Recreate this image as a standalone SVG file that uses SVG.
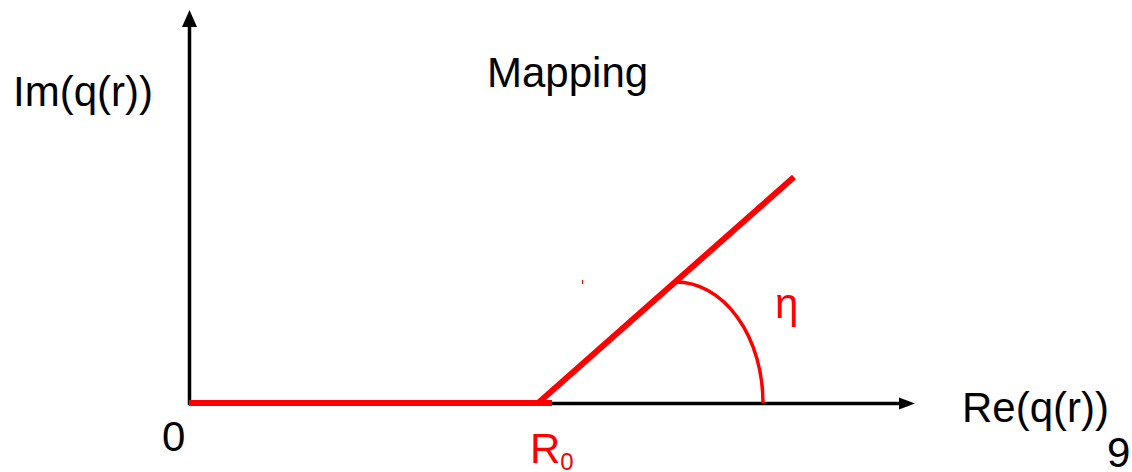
<svg xmlns="http://www.w3.org/2000/svg" width="1132" height="472" viewBox="0 0 1132 472">
<style>
.t{font-family:"Liberation Sans",Arial,sans-serif;font-size:42px;fill:#000}
.r{fill:#ff0000}
.ax{stroke:#000;stroke-width:3.5;fill:none}
.red{stroke:#ff0000;fill:none}
</style>
<rect width="1132" height="472" fill="#fff"/>
<g id="connectors">
<line class="ax" x1="189.5" y1="405" x2="189.5" y2="24"/>
<polygon points="189.5,10 182,27 197,27" fill="#000"/>
<line class="ax" x1="188" y1="403.5" x2="902" y2="403.5"/>
<polygon points="915,403.5 899,397.5 899,409.5" fill="#000"/>
<line class="red" stroke-width="6" x1="189" y1="403" x2="552" y2="403"/>
<line class="red" stroke-width="6" x1="537" y1="404" x2="794" y2="177"/>
<path class="red" stroke-width="3.5" d="M676,282 A87,121 0 0 1 763,403"/>
<line class="red" stroke-width="1" x1="582.5" y1="280" x2="582.5" y2="284"/>
</g>
<g id="labels">
<text class="t" x="13" y="106">Im(q(r))</text>
<text class="t" x="487" y="87">Mapping</text>
<text class="t" x="162" y="451">0</text>
<text class="t r" x="530" y="463">R<tspan font-size="24" dy="7">0</tspan></text>
<text class="t r" x="775" y="318" font-size="47">η</text>
<text class="t" x="962" y="422">Re(q(r))</text>
<text class="t" x="1107" y="467" font-size="45">9</text>
</g>
</svg>
